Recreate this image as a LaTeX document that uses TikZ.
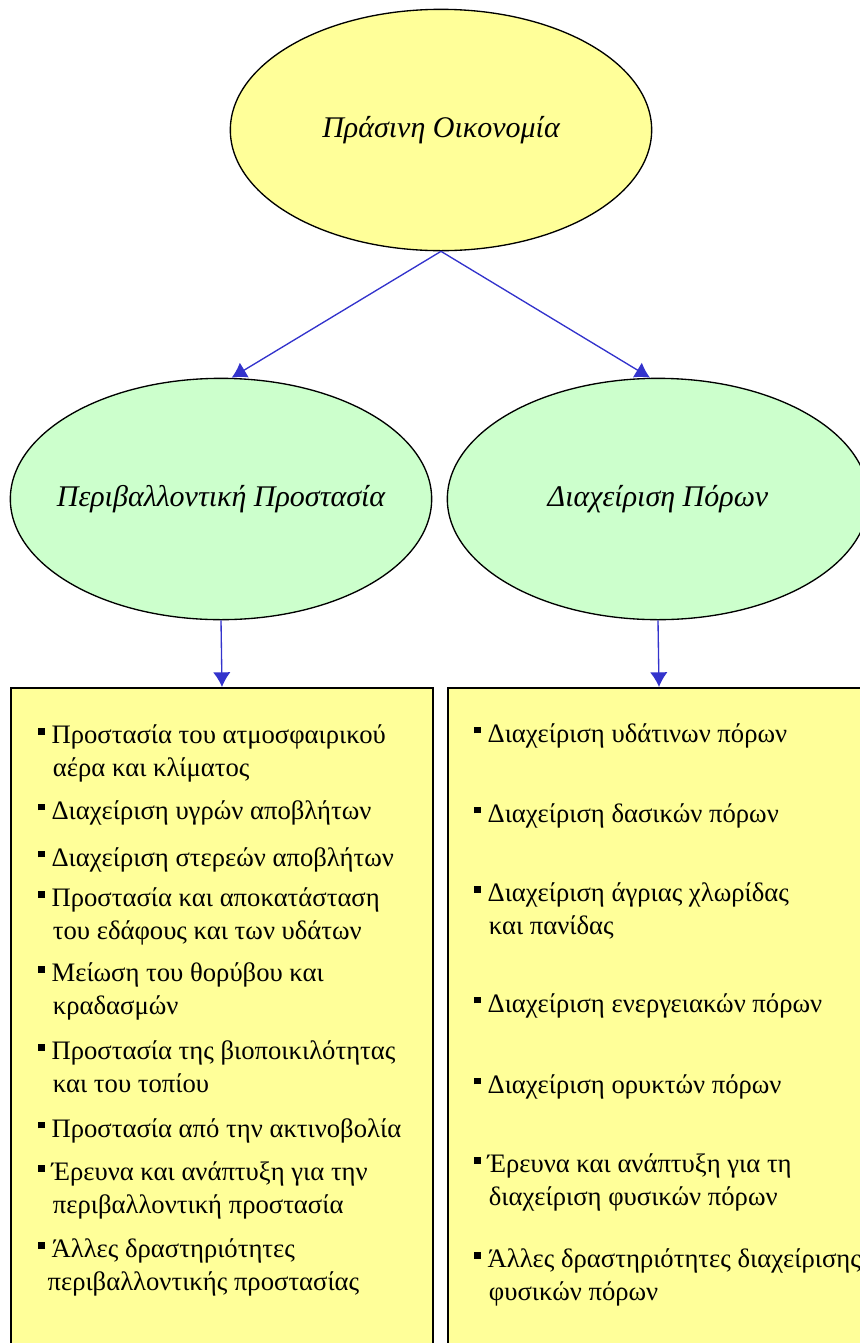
\documentclass[tikz,border=0pt]{standalone}
\usepackage{fontspec}
\setmainfont{Liberation Serif}
\usetikzlibrary{shapes.geometric,arrows.meta}

\definecolor{kitrino}{HTML}{FFFF99}
\definecolor{prasino}{HTML}{CCFFCC}
\definecolor{mple}{HTML}{3333CC}

\newcommand\koukida{\rule[6.5pt]{5pt}{5pt}\hspace{5pt}}
\newcommand\esoxi{\hspace*{11pt}}

\tikzset{
  elleipsi/.style={ellipse, draw, line width=1pt, inner sep=0pt,
    minimum width=316pt, minimum height=181pt},
  etiketa/.style={font=\fontsize{22.5}{26}\selectfont\itshape},
  kouti/.style={rectangle, draw, line width=1.2pt, fill=kitrino,
    minimum width=316.5pt, minimum height=520pt, anchor=north},
  grammi/.style={anchor=base west, align=left, inner sep=0pt,
    font=\fontsize{20}{24.5}\selectfont},
  velos/.style={->, draw=mple, fill=mple, line width=1pt}
}

\begin{document}
\begin{tikzpicture}[x=0.75pt, y=-0.75pt, >={Latex[length=11pt,width=13pt]}]
    \useasboundingbox (0,0) rectangle (860,1343);
    \clip (0,0) rectangle (860,1343);

    % Ελλείψεις
    \node[elleipsi, fill=kitrino, label={[etiketa]center:Πράσινη Οικονομία}] (oikonomia) at (441,130) {};
    \node[elleipsi, fill=prasino, label={[etiketa]center:Περιβαλλοντική Προστασία}] (prostasia) at (221,499) {};
    \node[elleipsi, fill=prasino, label={[etiketa]center:Διαχείριση Πόρων}] (poroi) at (658,499) {};

    % Κουτιά
    \node[kouti] (kouti1) at (222,687) {};
    \node[kouti] (kouti2) at (659,687) {};

    % Βέλη
    \draw[velos] (oikonomia.south) -- ([xshift=8pt]prostasia.north);
    \draw[velos] (oikonomia.south) -- ([xshift=-6pt]poroi.north);
    \draw[velos] (prostasia.south) -- (kouti1.north);
    \draw[velos] (poroi.south) -- (kouti2.north);

    % Αριστερή λίστα (θέση = βάση της τελευταίας γραμμής)
    \node[grammi] (a1) at (38,776) {\koukida Προστασία του ατμοσφαιρικού\\ \esoxi αέρα και κλίματος};
    \node[grammi] (a2) at (38,819) {\koukida Διαχείριση υγρών αποβλήτων};
    \node[grammi] (a3) at (38,866) {\koukida Διαχείριση στερεών αποβλήτων};
    \node[grammi] (a4) at (38,939) {\koukida Προστασία και αποκατάσταση\\ \esoxi του εδάφους και των υδάτων};
    \node[grammi] (a5) at (38,1014) {\koukida Μείωση του θορύβου και\\ \esoxi κραδασμών};
    \node[grammi] (a6) at (38,1092) {\koukida Προστασία της βιοποικιλότητας\\ \esoxi και του τοπίου};
    \node[grammi] (a7) at (38,1137) {\koukida Προστασία από την ακτινοβολία};
    \node[grammi] (a8) at (38,1213) {\koukida Έρευνα και ανάπτυξη για την\\ \esoxi περιβαλλοντική προστασία};
    \node[grammi] (a9) at (38,1290) {\koukida Άλλες δραστηριότητες\\ \hspace*{7pt}περιβαλλοντικής προστασίας};

    % Δεξιά λίστα
    \node[grammi] (d1) at (474,742) {\koukida Διαχείριση υδάτινων πόρων};
    \node[grammi] (d2) at (474,822) {\koukida Διαχείριση δασικών πόρων};
    \node[grammi] (d3) at (474,934) {\koukida Διαχείριση άγριας χλωρίδας\\ \esoxi και πανίδας};
    \node[grammi] (d4) at (474,1012) {\koukida Διαχείριση ενεργειακών πόρων};
    \node[grammi] (d5) at (474,1093) {\koukida Διαχείριση ορυκτών πόρων};
    \node[grammi] (d6) at (474,1205) {\koukida Έρευνα και ανάπτυξη για τη\\ \esoxi διαχείριση φυσικών πόρων};
    \node[grammi] (d7) at (474,1300) {\koukida Άλλες δραστηριότητες διαχείρισης\\ \esoxi φυσικών πόρων};
\end{tikzpicture}
\end{document}
